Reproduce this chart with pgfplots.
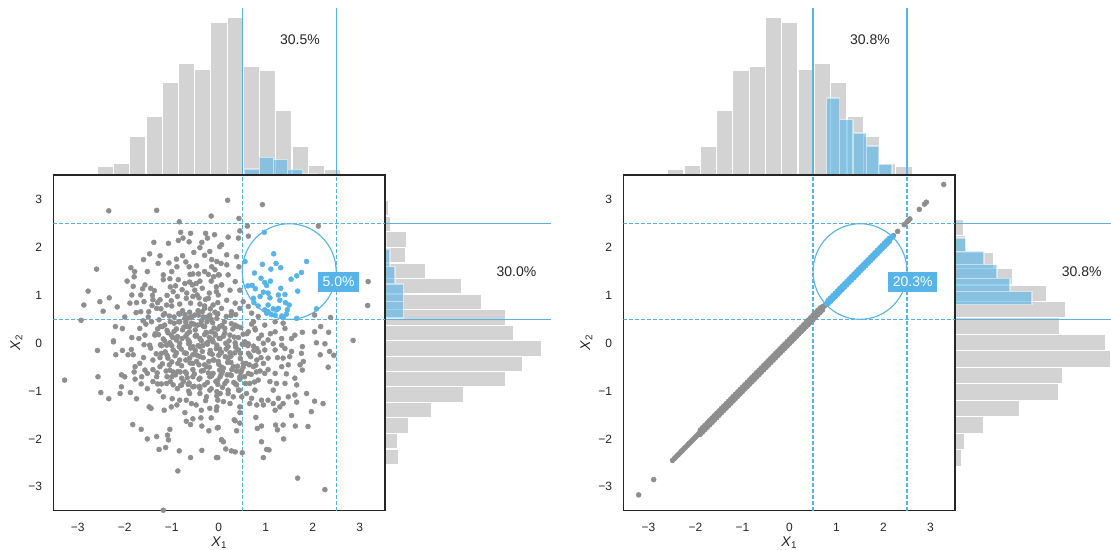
\documentclass[border=0pt]{standalone}
\usepackage{fontspec}
\setmainfont{Liberation Sans}
\usepackage{pgfplots}
\pgfplotsset{compat=1.18}
\definecolor{sky}{HTML}{56B4E9}
\definecolor{hgray}{HTML}{D3D3D3}
\definecolor{pgray}{HTML}{8E8E8E}
\definecolor{txt}{HTML}{262626}
\tikzset{
  pct/.style={font=\fontsize{10.5}{12}\selectfont, text=txt},
  lbl/.style={fill=sky, text=white, font=\fontsize{10.5}{12}\selectfont, inner xsep=3.3pt, inner ysep=3.8pt},
}
\pgfplotsset{
  hist/.style={scale only axis, anchor=south west, hide axis, clip=false},
  histtop/.style={hist, width=248.8pt, height=125.5pt, ymin=0, ymax=502},
  histright/.style={hist, height=251.8pt, xmin=0, ymin=-3.5, ymax=3.52},
  gbar/.style={fill=hgray, draw=white, line width=0.9pt},
  bbar/.style={fill=sky, fill opacity=0.6, draw=white, draw opacity=0.5, line width=0.9pt},
  vline/.style={color=sky, opacity=1, line width=1pt},
  hline/.style={color=sky, opacity=1, line width=1.15pt},
  dline/.style={color=sky, opacity=1, line width=1pt, dash pattern=on 3pt off 1.5pt},
  dhline/.style={color=sky, opacity=1, line width=1.15pt, dash pattern=on 3pt off 1.5pt},
  scat/.style={scale only axis, anchor=south west, width=248.8pt, height=251.8pt,
    ymin=-3.5, ymax=3.52,
    xtick={-3,-2,-1,0,1,2,3}, ytick={-3,-2,-1,0,1,2,3},
    xticklabels={−3,−2,−1,0,1,2,3}, yticklabels={−3,−2,−1,0,1,2,3},
    tick style={draw=none},
    axis line style={txt, line width=1pt},
    tick label style={font=\fontsize{9}{10}\selectfont, text=txt},
    xticklabel style={yshift=-5.8pt},
    yticklabel style={xshift=-5pt},
    xlabel={\textit{X}\textsubscript{1}},
    ylabel={\textit{X}\textsubscript{2}},
    every axis x label/.style={at={(axis description cs:0.5,-0.064)}, anchor=north, font=\fontsize{10.5}{12}\selectfont, text=txt},
    every axis y label/.style={at={(axis description cs:-0.079,0.5)}, rotate=90, anchor=south, font=\fontsize{10.5}{12}\selectfont, text=txt},
  },
  gpts/.style={only marks, mark=*, mark size=1.85pt, color=pgray},
  bpts/.style={only marks, mark=*, mark size=1.85pt, color=sky},
}
\begin{document}
\begin{tikzpicture}
\useasboundingbox (0,0) rectangle (833.25pt,412.5pt);

%================ LEFT PANEL ================
\begin{axis}[histtop, at={(40pt,281.25pt)}, xmin=-3.52, xmax=3.54]
\addplot[ybar interval, gbar] coordinates {(-2.93,4)(-2.585,25)(-2.24,34)(-1.894,116)(-1.549,175)(-1.203,277)(-0.858,336)(-0.512,316)(-0.167,457)(0.179,473)(0.524,325)(0.87,313)(1.215,195)(1.561,86)(1.906,28)(2.252,17)(2.597,0)(2.943,2)(3.288,0)};
\addplot[ybar interval, bbar] coordinates {(0.545,18)(0.86,53)(1.16,46)(1.47,17)(1.79,3)(2.09,0)};
\addplot[vline] coordinates {(0.5,0)(0.5,502)};
\addplot[vline] coordinates {(2.5,0)(2.5,502)};
\node[pct] at (axis cs:1.73,405) {30.5\%};
\end{axis}

\begin{axis}[histright, at={(288.75pt,29.5pt)}, width=124.3pt, xmax=497]
\addplot[xbar interval, gbar] coordinates {(3,-2.86)(41,-2.54)(37,-2.21)(72,-1.89)(139,-1.56)(237,-1.24)(362,-0.91)(412,-0.59)(470,-0.27)(385,0.06)(362,0.38)(290,0.71)(230,1.03)(122,1.36)(61,1.68)(65,2.01)(17,2.33)(10,2.66)(0,2.98)};
\addplot[xbar interval, bbar] coordinates {(55,0.53)(55,0.88)(30,1.24)(15,1.60)(3,1.97)(0,2.33)};
\addplot[hline] coordinates {(0,0.5)(497,0.5)};
\addplot[hline] coordinates {(0,2.5)(497,2.5)};
\node[pct] at (axis cs:394,1.50) {30.0\%};
\end{axis}

\begin{axis}[scat, at={(40pt,29.5pt)}, xmin=-3.52, xmax=3.54]
\addplot[gpts] coordinates {
(-2.34,2.77)(-1.32,2.78)(-0.84,2.54)(-0.16,2.66)(-2.60,1.55)(-2.78,1.09)(-2.87,0.80)(-2.93,0.48)(-2.53,0.87)(-2.46,0.67)(-2.33,0.95)(-2.16,0.76)(-2.24,0.05)(-2.05,0.31)(-1.85,0.12)(-1.87,1.58)(-1.79,1.50)(-1.80,1.39)(-1.52,1.50)(-1.47,1.87)(-1.38,2.11)(-1.25,1.83)(-1.29,1.67)(-1.06,1.68)(-1.07,2.09)(-0.86,2.15)(-0.81,2.32)(-0.76,2.20)(-0.63,2.12)(-0.77,1.83)(-0.90,1.76)(-0.63,1.60)(-0.53,1.90)(-0.47,1.62)(-0.30,1.84)(-0.36,2.11)(-0.28,2.30)(-0.24,2.20)(-0.09,2.27)(-0.04,1.71)(-0.22,1.44)(-0.43,1.45)(-0.61,1.44)(-0.86,1.33)(-1.04,1.35)(-1.18,1.33)(-1.03,1.18)(-1.57,1.22)(-1.62,1.14)(-1.66,1.01)(-1.85,1.01)(-1.89,0.84)(-1.76,0.64)(-1.59,0.87)(-1.41,1.00)(-1.37,1.10)(-1.49,0.66)(-1.42,0.79)(-1.32,0.73)(-1.23,0.72)(-1.27,0.49)(-1.61,0.47)(-1.43,0.45)(-1.68,0.31)(-1.57,0.17)(-1.36,0.17)(-1.24,0.35)(-1.10,0.27)(-1.03,0.45)(-1.01,0.89)(-1.00,0.78)(-0.88,0.98)(-0.97,1.08)(-0.83,0.82)(-0.77,0.68)(-0.69,0.94)(-0.60,0.84)(-0.56,1.22)(-0.51,1.11)(-0.46,1.01)(-0.40,0.82)(-0.62,0.65)(-0.51,0.59)(-0.35,0.66)(-0.30,0.73)(-0.22,0.94)(-0.16,1.30)(-0.11,1.39)(-0.08,1.54)(0.01,1.43)(0.06,1.22)(-0.05,1.08)(-0.12,0.80)(-0.19,0.59)(-0.04,0.52)(-0.37,0.47)(-0.70,0.44)(-0.83,0.45)(-0.77,0.28)(-0.62,0.24)(-0.48,0.17)(-0.30,0.35)(-0.16,0.24)(0.02,0.35)(0.01,0.10)(-0.12,0.03)(-0.37,0.05)(-0.65,0.07)(-0.90,0.07)(-1.18,0.09)(-1.01,0.17)(-0.62,0.35)(-1.11,0.80)(-1.18,0.59)(-0.72,1.25)(-0.40,1.30)(-0.89,1.60)(-1.00,1.50)(-1.18,1.43)(-1.82,1.19)(-0.19,1.92)(0.02,2.02)(-1.40,0.91)(-1.25,0.91)(-1.66,0.66)
(-0.95,0.55)(-0.85,0.62)(-0.72,0.52)(-0.58,0.42)(-0.45,0.38)(-0.33,0.55)(-0.25,0.45)(-0.18,0.72)(-0.08,0.65)(-0.02,0.85)(-0.28,0.92)(-0.42,0.95)(-0.55,0.98)(-0.68,1.05)(-0.78,1.12)(-0.92,1.20)(-0.62,1.28)(-0.48,1.25)(-0.35,1.15)(-0.20,1.05)(-0.05,1.18)(-0.15,1.60)(-0.30,1.50)(-0.55,1.45)(-0.70,1.70)(-1.15,0.62)(-1.30,0.85)(-1.45,1.15)(-1.10,1.00)(-0.90,0.30)(-0.70,0.15)(-0.50,0.28)(-0.30,0.18)(-0.10,0.32)(-0.20,0.12)(-1.30,0.30)(-1.50,0.55)(-1.75,0.85)(-2.00,0.55)(-2.20,0.35)(-1.95,1.30)(-0.40,2.00)(-0.60,2.30)(-1.60,1.75)(-0.15,1.75)
(0.19,2.99)(0.93,2.90)(0.43,2.61)(0.61,2.45)(2.12,2.45)(0.45,2.35)(0.20,2.22)(0.63,2.24)(0.06,2.06)(0.42,2.20)(0.17,1.85)(0.38,1.81)(0.05,1.67)(0.17,1.64)(0.43,1.60)(-0.01,1.43)(0.20,1.43)(0.35,1.29)(0.06,1.22)(0.24,1.11)(0.45,1.11)(-0.01,1.01)(0.17,0.90)(0.35,0.84)(0.52,0.87)(0.06,0.73)(0.27,0.66)(0.45,0.73)(0.63,0.77)(0.70,0.63)(0.84,0.56)(2.04,0.59)(2.38,0.54)(3.18,1.29)(3.17,0.79)(2.86,0.06)(1.78,0.23)(2.04,0.24)(2.17,0.35)(2.34,0.23)(1.55,0.10)(1.20,0.24)(0.98,0.38)(0.77,0.31)(0.63,0.24)(0.91,0.17)(1.34,0.10)(1.05,0.07)(0.56,0.03)(0.35,0.38)(0.13,0.31)(0.24,0.17)(0.03,0.10)(1.41,0.31)(1.62,0.17)(0.74,0.45)(1.20,0.45)(1.37,0.42)
(-2.24,0.03)(-2.58,-0.15)(-2.19,-0.24)(-1.93,-0.24)(-1.82,-0.24)(-1.86,-0.13)(-1.59,-0.03)(-1.47,-0.04)(-3.28,-0.77)(-2.57,-0.70)(-2.51,-1.03)(-2.34,-1.16)(-2.07,-0.66)(-2.00,-0.70)(-2.10,-1.05)(-2.07,-0.91)(-1.88,-1.03)(-1.75,-1.16)(-1.78,-0.75)(-1.83,-1.70)(-1.65,-1.80)(-1.52,-2.00)(-1.32,-1.95)(-1.27,-2.22)(-1.13,-2.18)(-1.07,-2.02)(-1.04,-1.80)(-1.09,-1.92)(-0.84,-2.25)(-0.87,-2.67)(-0.60,-2.39)(-0.36,-2.24)(-0.05,-2.39)(-1.18,-3.49)(-1.48,-1.33)(-1.44,-1.36)(-1.52,-0.95)(-1.27,-1.00)(-1.16,-1.40)(-1.01,-1.33)(-0.89,-1.29)(-0.72,-1.45)(-0.69,-1.63)(-0.60,-1.70)(-0.55,-1.58)(-0.38,-1.56)(-0.36,-1.73)(-0.21,-1.83)(-0.16,-1.56)(-0.03,-1.77)(0.06,-2.02)(-1.68,-0.42)(-1.78,-0.49)(-1.57,-0.56)(-1.64,-0.70)(-1.52,-0.63)(-1.40,-0.35)(-1.25,-0.49)(-1.32,-0.70)(-1.40,-0.80)(-1.11,-0.84)(-0.97,-0.87)(-0.79,-0.87)(-0.65,-0.86)(-0.55,-0.91)(-0.40,-0.94)(-0.30,-0.87)(-0.19,-0.98)(-0.04,-1.01)(-1.18,-1.12)(-0.99,-1.16)(-0.83,-1.19)(-0.69,-1.19)(-0.58,-1.26)(-0.48,-1.29)(-0.37,-1.40)(-0.19,-1.36)(-0.05,-1.40)(-1.22,-0.21)(-1.08,-0.31)(-0.97,-0.14)(-0.83,-0.35)(-0.69,-0.21)(-0.55,-0.42)(-0.40,-0.28)(-0.26,-0.49)(-0.12,-0.35)(0.02,-0.56)(-1.04,-0.56)(-0.87,-0.59)(-0.69,-0.63)(-0.55,-0.70)(-0.40,-0.73)(-0.19,-0.70)(-0.02,-0.77)(-1.00,-0.70)(-0.79,-0.73)(-0.62,-1.05)(-0.26,-1.12)(-0.02,-1.19)(-1.11,-0.04)(-0.83,0.00)(-0.55,-0.07)(-0.26,0.00)(-0.05,-0.11)(-0.40,-0.07)(-0.19,-0.21)(-0.62,-0.31)
(2.08,0.01)(2.26,-0.01)(2.36,-0.17)(2.45,-0.25)(2.33,-0.50)(2.16,-0.24)(1.78,-0.07)(1.80,-0.38)(1.73,-0.45)(1.78,-0.56)(1.51,-0.28)(1.37,-0.31)(1.48,-0.45)(1.34,-0.49)(1.44,-0.64)(1.62,-0.73)(1.66,-0.87)(1.41,-0.84)(1.20,-0.63)(1.23,-0.84)(1.16,-0.98)(1.09,-0.80)(0.98,-0.63)(0.84,-0.77)(0.77,-0.98)(0.66,-0.84)(0.59,-1.05)(0.63,-0.63)(1.87,-1.05)(2.04,-1.21)(2.22,-1.26)(1.97,-1.43)(1.62,-1.08)(1.66,-1.23)(1.55,-1.51)(1.48,-1.12)(1.37,-1.26)(1.27,-1.15)(1.30,-1.33)(1.20,-1.40)(1.16,-1.26)(1.05,-1.19)(0.95,-1.29)(0.91,-1.19)(0.81,-1.29)(0.66,-1.26)(0.70,-1.15)(0.79,-1.55)(0.91,-1.73)(0.82,-1.78)(1.21,-1.71)(1.25,-1.81)(1.37,-1.71)(1.38,-2.00)(1.63,-1.73)(1.90,-1.74)(0.91,-2.06)(1.02,-2.22)(1.07,-2.23)(0.95,-2.39)(1.68,-2.82)(2.26,-3.06)(0.50,-2.29)(0.35,-2.27)(0.27,-2.25)(0.15,-2.21)(-0.02,-2.39)(0.06,-2.02)(0.10,-2.06)(-0.01,-1.76)(0.35,-1.62)(0.45,-1.67)(0.38,-1.83)(0.33,-1.60)(0.45,-1.45)(0.45,-1.33)(0.24,-1.26)(0.10,-1.22)(0.31,-1.12)(-0.04,-1.33)(0.49,-1.12)(0.42,-0.98)(0.20,-0.98)(0.03,-1.05)(0.35,-0.84)(0.13,-0.84)(0.45,-0.70)(0.24,-0.66)(0.03,-0.70)(0.49,-0.56)(0.31,-0.49)(0.10,-0.52)(0.52,-0.42)(0.74,-0.49)(0.81,-0.35)(0.95,-0.42)(1.05,-0.31)(1.20,-0.14)(0.98,-0.14)(0.81,-0.11)(0.63,-0.21)(0.42,-0.14)(0.20,-0.07)(0.03,-0.21)(0.20,-0.31)(-0.01,-0.38)(1.34,-0.04)(1.55,-0.17)(1.41,-0.11)(1.16,-0.01)(1.76,-0.21)(0.63,-0.01)(0.35,0.01)
(-1.45,-0.10)(-1.35,0.20)(-1.25,-0.30)(-1.15,0.05)(-1.05,-0.45)(-0.95,0.25)(-0.90,-0.20)(-0.82,-0.60)(-0.78,0.10)(-0.70,-0.35)(-0.66,0.35)(-0.60,-0.10)(-0.55,-0.55)(-0.50,0.15)(-0.46,-0.25)(-0.42,-0.75)(-0.38,0.40)(-0.34,-0.05)(-0.30,-0.45)(-0.26,0.22)(-0.22,-0.62)(-0.18,-0.15)(-0.14,0.08)(-0.10,-0.35)(-0.06,-0.80)(-0.02,0.30)(0.02,-0.12)(0.06,-0.50)(0.10,0.15)(0.14,-0.28)(0.18,-0.66)(0.22,0.05)(0.26,-0.40)(0.30,0.30)(0.34,-0.20)(0.38,-0.58)(0.42,0.12)(0.46,-0.32)(0.50,-0.02)(0.55,-0.70)(0.60,0.20)(0.65,-0.45)(0.70,0.40)(0.75,-0.15)(0.80,-0.60)(0.85,0.10)(0.90,-0.30)(-1.40,-0.55)(-1.30,-0.85)(-1.20,0.35)(-1.10,-0.70)(-1.00,-0.05)(-0.88,-0.95)(-0.75,-0.80)(-0.64,-1.00)(-0.52,-0.90)(-0.40,-1.05)(-0.28,-1.20)(-0.16,-0.95)(-0.04,-1.10)(0.08,-0.92)(0.20,-1.05)(0.32,-0.82)(0.44,-0.98)(-0.85,0.45)(-0.72,0.60)(-0.58,0.55)(-0.44,0.68)(-0.30,0.78)(-0.16,0.50)(-0.02,0.62)(0.12,0.45)(0.26,0.58)(0.40,0.35)(-1.60,-0.30)(-1.70,0.10)(-1.55,0.40)(-1.80,-0.60)(-1.65,-0.85)(-2.05,-0.15)(-0.97,-0.60)(-0.87,-0.42)(-0.67,-0.72)(-0.47,-0.38)(-0.37,-0.58)(-0.20,-0.50)(0.00,-0.25)(0.16,-0.12)(0.36,-0.05)(0.52,-0.50)(0.68,-0.28)(-0.80,-0.12)(-0.62,0.02)(-0.40,0.10)(-0.24,-0.02)(-0.08,0.20)(0.28,-0.55)(-1.10,-0.25)(-1.22,-0.05)(-0.98,0.12)(-0.50,-0.15)(-0.33,-0.30)(-0.15,-0.68)(0.05,-0.65)(0.24,-0.20)(0.45,-0.75)(0.62,-0.05)(0.78,0.28)(0.95,0.00)(1.05,-0.55)(1.10,0.20)(1.25,-0.30)
(-1.22,-0.85)(-1.03,-0.80)(-0.81,-0.88)(-0.63,-0.83)(-0.41,-0.90)(-0.24,-0.82)(-0.02,-0.86)(0.17,-0.79)(0.38,-0.87)(0.57,-0.84)(0.76,-0.81)
(-1.31,-0.62)(-1.12,-0.58)(-0.92,-0.66)(-0.71,-0.60)(-0.52,-0.64)(-0.33,-0.57)(-0.12,-0.63)(0.08,-0.59)(0.27,-0.67)(0.47,-0.61)(0.69,-0.65)(0.88,-0.58)
(-1.20,-0.43)(-1.00,-0.39)(-0.79,-0.47)(-0.61,-0.41)(-0.42,-0.45)(-0.21,-0.38)(0.00,-0.44)(0.19,-0.40)(0.40,-0.48)(0.58,-0.42)(0.79,-0.46)
(-1.33,-0.22)(-1.14,-0.18)(-0.93,-0.26)(-0.73,-0.20)(-0.55,-0.24)(-0.35,-0.17)(-0.14,-0.23)(0.06,-0.19)(0.26,-0.27)(0.46,-0.21)(0.66,-0.25)(0.85,-0.18)
(-1.24,-0.03)(-1.04,0.01)(-0.84,-0.07)(-0.64,-0.01)(-0.44,-0.05)(-0.23,0.02)(-0.04,-0.04)(0.15,0.00)(0.36,-0.08)(0.56,-0.02)(0.74,-0.06)
(-1.28,0.18)(-1.08,0.22)(-0.88,0.14)(-0.67,0.20)(-0.47,0.16)(-0.27,0.23)(-0.07,0.17)(0.13,0.21)(0.33,0.13)(0.52,0.19)
(-1.15,0.38)(-0.95,0.42)(-0.74,0.34)(-0.53,0.40)(-0.33,0.36)(-0.13,0.43)(0.07,0.37)(0.27,0.41)(0.47,0.33)
(-1.05,0.57)(-0.83,0.61)(-0.64,0.53)(-0.43,0.59)(-0.24,0.55)(-0.04,0.62)(0.16,0.56)(0.36,0.60)
};
\addplot[bpts] coordinates {
(0.97,2.32)(1.17,1.87)(1.87,1.71)(0.93,1.65)(1.22,1.67)(1.11,1.55)(1.32,1.58)(0.56,1.71)(0.76,1.47)(1.76,1.48)(1.66,1.41)(1.54,1.34)(0.90,1.36)(0.98,1.27)(1.02,1.21)(0.71,1.21)(0.78,1.14)(1.32,1.15)(1.68,1.09)(0.95,1.07)(1.05,1.05)(1.27,1.01)(1.41,1.02)(1.09,0.95)(0.74,0.94)(1.42,0.85)(1.05,0.80)(1.27,0.73)(1.46,0.70)(0.98,0.70)(1.05,0.66)(1.16,0.72)(0.84,0.78)(1.20,0.59)(1.34,0.57)(1.44,0.61)(2.08,0.72)(1.66,0.52)(1.02,0.63)(1.37,0.54)(1.12,0.60)(1.23,0.70)(0.62,1.20)(0.88,0.98)(1.10,1.30)(1.30,0.90)(0.75,0.85)(1.50,0.80)
};
\addplot[dline] coordinates {(0.5,-3.5)(0.5,3.52)};
\addplot[dline] coordinates {(2.5,-3.5)(2.5,3.52)};
\addplot[dhline] coordinates {(-3.52,0.5)(3.54,0.5)};
\addplot[dhline] coordinates {(-3.52,2.5)(3.54,2.5)};
\draw[sky, line width=0.85pt] (axis cs:1.5,1.5) ellipse [x radius=1, y radius=1];
\node[lbl] at (axis cs:2.55,1.28) {5.0\%};
\end{axis}

%================ RIGHT PANEL ================
\begin{axis}[histtop, at={(467.5pt,281.25pt)}, xmin=-3.536, xmax=3.521]
\addplot[ybar interval, gbar] coordinates {(-3.287,2)(-2.940,0)(-2.593,17)(-2.247,28)(-1.900,86)(-1.553,195)(-1.206,313)(-0.860,325)(-0.513,473)(-0.166,457)(0.181,316)(0.527,335)(0.874,277)(1.221,175)(1.568,116)(1.914,34)(2.261,25)(2.608,4)(2.955,0)};
\addplot[ybar interval, bbar] coordinates {(0.79,231)(1.07,166)(1.35,126)(1.63,87)(1.90,32)(2.18,0)};
\addplot[vline] coordinates {(0.5,0)(0.5,502)};
\addplot[vline] coordinates {(2.5,0)(2.5,502)};
\node[pct] at (axis cs:1.71,405) {30.8\%};
\end{axis}

\begin{axis}[histright, at={(716.25pt,29.5pt)}, width=117pt, xmax=468]
\addplot[xbar interval, gbar] coordinates {(3,-3.259)(0,-2.914)(19,-2.570)(29,-2.225)(87,-1.881)(194,-1.536)(310,-1.192)(323,-0.847)(468,-0.503)(452,-0.158)(313,0.186)(333,0.531)(275,0.875)(174,1.220)(115,1.564)(33,1.909)(25,2.253)(5,2.598)(0,2.942)};
\addplot[xbar interval, bbar] coordinates {(231,0.81)(165,1.08)(126,1.36)(87,1.64)(32,1.92)(0,2.20)};
\addplot[hline] coordinates {(0,0.5)(468,0.5)};
\addplot[hline] coordinates {(0,2.5)(468,2.5)};
\node[pct] at (axis cs:380,1.50) {30.8\%};
\end{axis}

\begin{axis}[scat, at={(467.5pt,29.5pt)}, xmin=-3.536, xmax=3.521]
\addplot[gpts] coordinates {
(-3.21,-3.17)(-2.89,-2.85)(-2.49,-2.45)(-2.29,-2.25)(-2.13,-2.09)(-1.98,-1.94)
(-2.45,-2.41)(-2.42,-2.38)(-2.39,-2.35)(-2.36,-2.32)(-2.33,-2.29)(-2.30,-2.26)(-2.27,-2.23)(-2.24,-2.20)(-2.21,-2.17)(-2.18,-2.14)(-2.15,-2.11)(-2.10,-2.06)(-2.07,-2.03)(-2.04,-2.00)(-2.01,-1.97)(-1.95,-1.91)(-1.92,-1.88)(-1.89,-1.85)(-1.86,-1.82)(-1.83,-1.79)(-1.80,-1.76)(-1.77,-1.73)(-1.74,-1.70)(-1.71,-1.67)(-1.68,-1.64)(-1.65,-1.61)(-1.62,-1.58)(-1.59,-1.55)(-1.56,-1.52)(-1.53,-1.49)(-1.50,-1.46)(-1.47,-1.43)(-1.44,-1.40)(-1.41,-1.37)(-1.38,-1.34)(-1.35,-1.31)(-1.32,-1.28)(-1.29,-1.25)(-1.26,-1.22)(-1.23,-1.19)(-1.20,-1.16)(-1.17,-1.13)(-1.14,-1.10)(-1.11,-1.07)(-1.08,-1.04)(-1.05,-1.01)(-1.02,-0.98)(-0.99,-0.95)(-0.96,-0.92)(-0.93,-0.89)(-0.90,-0.86)(-0.87,-0.83)(-0.84,-0.80)(-0.81,-0.77)(-0.78,-0.74)(-0.75,-0.71)(-0.72,-0.68)(-0.69,-0.65)(-0.66,-0.62)(-0.63,-0.59)(-0.60,-0.56)(-0.57,-0.53)(-0.54,-0.50)(-0.51,-0.47)(-0.48,-0.44)(-0.45,-0.41)(-0.42,-0.38)(-0.39,-0.35)(-0.36,-0.32)(-0.33,-0.29)(-0.30,-0.26)(-0.27,-0.23)(-0.24,-0.20)(-0.21,-0.17)(-0.18,-0.14)(-0.15,-0.11)(-0.12,-0.08)(-0.09,-0.05)(-0.06,-0.02)(-0.03,0.01)(0.00,0.04)(0.03,0.07)(0.06,0.10)(0.09,0.13)(0.12,0.16)(0.15,0.19)(0.18,0.22)(0.21,0.25)(0.24,0.28)(0.27,0.31)(0.30,0.34)(0.33,0.37)(0.36,0.40)(0.39,0.43)(0.42,0.46)(0.45,0.49)(0.48,0.52)(0.51,0.55)(0.54,0.58)(0.57,0.61)(0.60,0.64)(0.63,0.67)(0.66,0.70)(0.69,0.73)(0.72,0.76)(0.75,0.79)
(-1.90,-1.815)(-1.85,-1.765)(-1.80,-1.715)(-1.75,-1.665)(-1.70,-1.615)(-1.65,-1.565)(-1.60,-1.515)(-1.55,-1.465)(-1.50,-1.415)(-1.45,-1.365)(-1.40,-1.315)(-1.35,-1.265)(-1.30,-1.215)(-1.25,-1.165)(-1.20,-1.115)(-1.15,-1.065)(-1.10,-1.015)(-1.05,-0.965)(-1.00,-0.915)(-0.95,-0.865)(-0.90,-0.815)(-0.85,-0.765)(-0.80,-0.715)(-0.75,-0.665)(-0.70,-0.615)(-0.65,-0.565)(-0.60,-0.515)(-0.55,-0.465)(-0.50,-0.415)(-0.45,-0.365)(-0.40,-0.315)(-0.35,-0.265)(-0.30,-0.215)(-0.25,-0.165)(-0.20,-0.115)(-0.15,-0.065)(-0.10,-0.015)(-0.05,0.035)(0.00,0.085)(0.05,0.135)(0.10,0.185)(0.15,0.235)(0.20,0.285)(0.25,0.335)(0.30,0.385)(0.35,0.435)(0.40,0.485)(0.45,0.535)(0.50,0.585)(0.55,0.635)(0.60,0.685)(0.65,0.735)(0.70,0.765)
(-1.90,-1.905)(-1.85,-1.855)(-1.80,-1.805)(-1.75,-1.755)(-1.70,-1.705)(-1.65,-1.655)(-1.60,-1.605)(-1.55,-1.555)(-1.50,-1.505)(-1.45,-1.455)(-1.40,-1.405)(-1.35,-1.355)(-1.30,-1.305)(-1.25,-1.255)(-1.20,-1.205)(-1.15,-1.155)(-1.10,-1.105)(-1.05,-1.055)(-1.00,-1.005)(-0.95,-0.955)(-0.90,-0.905)(-0.85,-0.855)(-0.80,-0.805)(-0.75,-0.755)(-0.70,-0.705)(-0.65,-0.655)(-0.60,-0.605)(-0.55,-0.555)(-0.50,-0.505)(-0.45,-0.455)(-0.40,-0.405)(-0.35,-0.355)(-0.30,-0.305)(-0.25,-0.255)(-0.20,-0.205)(-0.15,-0.155)(-0.10,-0.105)(-0.05,-0.055)(0.00,-0.005)(0.05,0.045)(0.10,0.095)(0.15,0.145)(0.20,0.195)(0.25,0.245)(0.30,0.295)(0.35,0.345)(0.40,0.395)(0.45,0.445)(0.50,0.495)(0.55,0.545)(0.60,0.595)(0.65,0.645)(0.70,0.695)
(2.21,2.25)(2.30,2.34)(2.44,2.48)(2.50,2.54)(2.53,2.57)(2.56,2.60)(2.76,2.80)(2.87,2.91)(2.91,2.95)(3.28,3.32)
};
\addplot[bpts] coordinates {
(0.79,0.83)(0.82,0.86)(0.85,0.89)(0.88,0.92)(0.91,0.95)(0.94,0.98)(0.97,1.01)(1.00,1.04)(1.03,1.07)(1.06,1.10)(1.09,1.13)(1.12,1.16)(1.15,1.19)(1.18,1.22)(1.21,1.25)(1.24,1.28)(1.27,1.31)(1.30,1.34)(1.33,1.37)(1.36,1.40)(1.39,1.43)(1.42,1.46)(1.45,1.49)(1.48,1.52)(1.51,1.55)(1.54,1.58)(1.57,1.61)(1.60,1.64)(1.63,1.67)(1.66,1.70)(1.69,1.73)(1.72,1.76)(1.75,1.79)(1.78,1.82)(1.81,1.85)(1.84,1.88)(1.87,1.91)(1.90,1.94)(1.93,1.97)(1.96,2.00)(1.99,2.03)(2.02,2.06)(2.05,2.09)(2.08,2.12)(2.11,2.15)(2.14,2.18)(2.17,2.21)(2.19,2.23)
(0.82,0.895)(0.87,0.945)(0.92,0.995)(0.97,1.045)(1.02,1.095)(1.07,1.145)(1.12,1.195)(1.17,1.245)(1.22,1.295)(1.27,1.345)(1.32,1.395)(1.37,1.445)(1.42,1.495)(1.47,1.545)(1.52,1.595)(1.57,1.645)(1.62,1.695)(1.67,1.745)(1.72,1.795)(1.77,1.845)(1.82,1.895)(1.87,1.945)(1.92,1.995)(1.97,2.045)(2.02,2.095)(2.07,2.145)(2.12,2.195)
(0.82,0.825)(0.87,0.875)(0.92,0.925)(0.97,0.975)(1.02,1.025)(1.07,1.075)(1.12,1.125)(1.17,1.175)(1.22,1.225)(1.27,1.275)(1.32,1.325)(1.37,1.375)(1.42,1.425)(1.47,1.475)(1.52,1.525)(1.57,1.575)(1.62,1.625)(1.67,1.675)(1.72,1.725)(1.77,1.775)(1.82,1.825)(1.87,1.875)(1.92,1.925)(1.97,1.975)(2.02,2.025)(2.07,2.075)(2.12,2.125)
};
\addplot[dline] coordinates {(0.5,-3.5)(0.5,3.52)};
\addplot[dline] coordinates {(2.5,-3.5)(2.5,3.52)};
\addplot[dhline] coordinates {(-3.536,0.5)(3.521,0.5)};
\addplot[dhline] coordinates {(-3.536,2.5)(3.521,2.5)};
\draw[sky, line width=0.85pt] (axis cs:1.5,1.5) ellipse [x radius=1, y radius=1];
\node[lbl] at (axis cs:2.62,1.28) {20.3\%};
\end{axis}
\end{tikzpicture}
\end{document}
